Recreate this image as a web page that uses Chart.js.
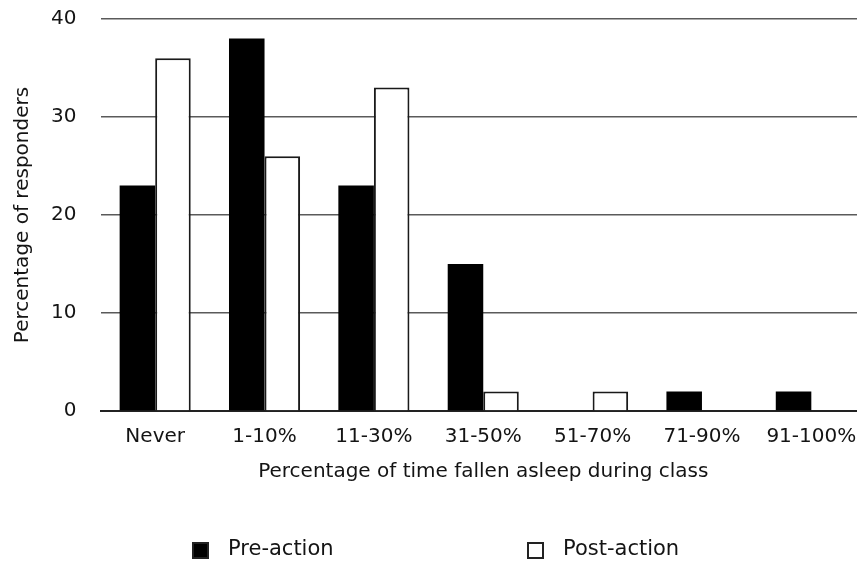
<!DOCTYPE html>
<html>
<head>
<meta charset="utf-8">
<script src="https://cdn.jsdelivr.net/npm/chart.js@4.4.1/dist/chart.umd.min.js"></script>
<style>
  html, body { margin: 0; padding: 0; background: #fff; overflow: hidden; }
  #wrap { width: 857px; height: 561px; overflow: hidden; }
</style>
</head>
<body>
<!-- canvas is a bit wider than the window: the original plot runs off its right edge -->
<div id="wrap"><canvas id="sleepChart" width="866" height="561"></canvas></div>
<script>
var categories = ['Never', '1-10%', '11-30%', '31-50%', '51-70%', '71-90%', '91-100%'];
var preAction  = [23, 38, 23, 15, 0, 2, 2];
var postAction = [36, 26, 33, 2, 2, 0, 0];
var yTicks = [0, 10, 20, 30, 40];

var fontFam = '"DejaVu Sans", Verdana, sans-serif';
var ink = '#141414';

// legend drawn by hand, the two items sit far apart in the original
var spreadLegend = {
  id: 'spreadLegend',
  afterDraw: function(chart){
    var ctx = chart.ctx;
    var items = [
      { ds: chart.data.datasets[0], boxX: 192, textX: 228 },
      { ds: chart.data.datasets[1], boxX: 527, textX: 563 }
    ];
    var y = 550;
    ctx.save();
    ctx.font = '21px ' + fontFam;
    ctx.textBaseline = 'middle';
    for(var i = 0; i < items.length; i++){
      var it = items[i];
      ctx.fillStyle = it.ds.backgroundColor;
      ctx.fillRect(it.boxX, y - 8, 17, 17);
      ctx.lineWidth = 2;
      ctx.strokeStyle = '#222';
      ctx.strokeRect(it.boxX + 1, y - 7, 15, 15);
      ctx.fillStyle = ink;
      ctx.fillText(it.ds.label, it.textX, y);
    }
    ctx.restore();
  }
};

var ctx = document.getElementById('sleepChart').getContext('2d');
new Chart(ctx, {
  type: 'bar',
  data: {
    labels: categories,
    datasets: [
      { label: 'Pre-action', data: preAction, backgroundColor: '#000', borderColor: '#000', borderWidth: 0,
        categoryPercentage: 0.65, barPercentage: 1.0 },
      { label: 'Post-action', data: postAction, backgroundColor: '#fff', borderColor: '#1a1a1a', borderWidth: 2,
        categoryPercentage: 0.65, barPercentage: 1.0 }
    ]
  },
  options: {
    responsive: false,
    animation: false,
    layout: { padding: { top: 19, right: 0, bottom: 77, left: 11 } },
    scales: {
      x: {
        afterFit: function(axis){ axis.paddingLeft = 0; axis.paddingRight = 0; axis.height = 73; },
        grid: { display: false, drawTicks: false },
        border: { display: true, color: '#222', width: 2 },
        ticks: { color: ink, font: { family: fontFam, size: 20 }, padding: 14, maxRotation: 0, autoSkip: false },
        title: { display: true, text: 'Percentage of time fallen asleep during class', color: ink,
                 font: { family: fontFam, size: 20 }, padding: { top: 11, bottom: 0 } }
      },
      y: {
        min: 0, max: 40,
        afterBuildTicks: function(axis){ axis.ticks = yTicks.map(function(v){ return { value: v }; }); },
        afterFit: function(axis){ axis.paddingTop = 0; axis.paddingBottom = 0; axis.width = 89.5; },
        grid: { color: '#5a5a5a', lineWidth: 1.5, drawTicks: false },
        border: { display: false },
        ticks: { color: ink, font: { family: fontFam, size: 20 }, padding: 24 },
        title: { display: true, text: 'Percentage of responders', color: ink,
                 font: { family: fontFam, size: 20 }, padding: { top: 0, bottom: 0 } }
      }
    },
    plugins: {
      legend: { display: false },
      tooltip: { enabled: false }
    }
  },
  plugins: [spreadLegend]
});
</script>
</body>
</html>
